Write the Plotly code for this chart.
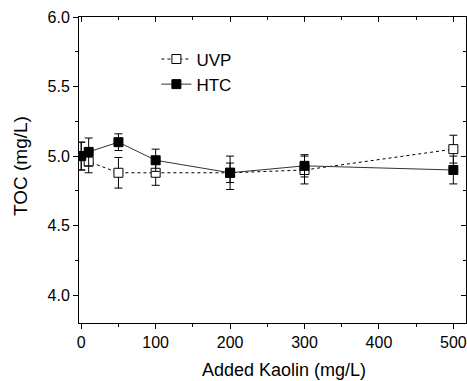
import plotly.graph_objects as go

kaolin = [0, 10, 50, 100, 200, 300, 500]
uvp = [5.00, 4.96, 4.88, 4.88, 4.88, 4.90, 5.05]
uvp_err = [0.10, 0.08, 0.11, 0.09, 0.07, 0.10, 0.10]
htc = [5.00, 5.03, 5.10, 4.97, 4.88, 4.93, 4.90]
htc_err = [0.10, 0.10, 0.06, 0.08, 0.12, 0.08, 0.10]

FONT = "Liberation Sans, Arial, sans-serif"

fig = go.Figure()
fig.add_trace(go.Scatter(
    x=kaolin, y=uvp, name="UVP", mode="lines+markers",
    line=dict(color="black", width=1, dash="dot"),
    marker=dict(symbol="square", size=9, color="white", line=dict(color="black", width=1)),
    error_y=dict(type="data", array=uvp_err, color="black", thickness=1, width=4),
))
fig.add_trace(go.Scatter(
    x=kaolin, y=htc, name="HTC", mode="lines+markers",
    line=dict(color="#333333", width=1),
    marker=dict(symbol="square", size=9, color="black", line=dict(color="black", width=1)),
    error_y=dict(type="data", array=htc_err, color="black", thickness=1, width=4),
))

xr = [-3, 517]
yr = [3.8, 6.0]

fig.update_layout(
    width=467, height=381,
    margin=dict(l=79, r=1, t=17, b=58),
    paper_bgcolor="white", plot_bgcolor="white",
    font=dict(family=FONT, color="black", size=16),
    showlegend=True,
    legend=dict(x=0.20, y=0.92, xanchor="left", yanchor="top",
                font=dict(size=17, family=FONT), bgcolor="rgba(0,0,0,0)",
                tracegroupgap=0),
    xaxis=dict(range=xr,
               tickvals=[0, 100, 200, 300, 400, 500], ticks="outside", ticklen=5,
               tickwidth=1, tickcolor="black", showline=True, linecolor="black",
               linewidth=1, showgrid=False, zeroline=False, tickfont=dict(size=16),
               minor=dict(dtick=50, tick0=0, ticks="outside", ticklen=3, tickcolor="black")),
    yaxis=dict(range=yr,
               tickvals=[4.0, 4.5, 5.0, 5.5, 6.0], tickformat=".1f", ticks="outside",
               ticklen=5, tickwidth=1, tickcolor="black", showline=True, linecolor="black",
               linewidth=1, showgrid=False, zeroline=False, tickfont=dict(size=16),
               minor=dict(dtick=0.25, tick0=4.0, ticks="outside", ticklen=3, tickcolor="black")),
    xaxis2=dict(range=xr, overlaying="x", side="top", tickvals=[0, 100, 200, 300, 400, 500],
                ticks="inside", ticklen=5, tickcolor="black", showticklabels=False,
                showline=True, linecolor="black", linewidth=1, showgrid=False, zeroline=False,
                minor=dict(dtick=50, tick0=0, ticks="inside", ticklen=3, tickcolor="black")),
    yaxis2=dict(range=yr, overlaying="y", side="right", tickvals=[4.0, 4.5, 5.0, 5.5, 6.0],
                ticks="inside", ticklen=5, tickcolor="black", showticklabels=False,
                showline=True, linecolor="black", linewidth=1, showgrid=False, zeroline=False,
                minor=dict(dtick=0.25, tick0=4.0, ticks="inside", ticklen=3, tickcolor="black")),
    annotations=[
        dict(text="Added Kaolin (mg/L)", xref="paper", yref="paper",
             x=(284 - 79) / 387, y=-(370 - 323) / 306, xanchor="center", yanchor="middle",
             showarrow=False, font=dict(size=18, family=FONT)),
        dict(text="TOC (mg/L)", xref="paper", yref="paper", textangle=-90,
             x=-(79 - 20) / 387, y=(323 - 166) / 306, xanchor="center", yanchor="middle",
             showarrow=False, font=dict(size=19, family=FONT)),
    ],
)
fig.add_trace(go.Scatter(x=[None], y=[None], xaxis="x2", yaxis="y2", showlegend=False,
                         hoverinfo="skip"))

fig.write_html("out.html")
